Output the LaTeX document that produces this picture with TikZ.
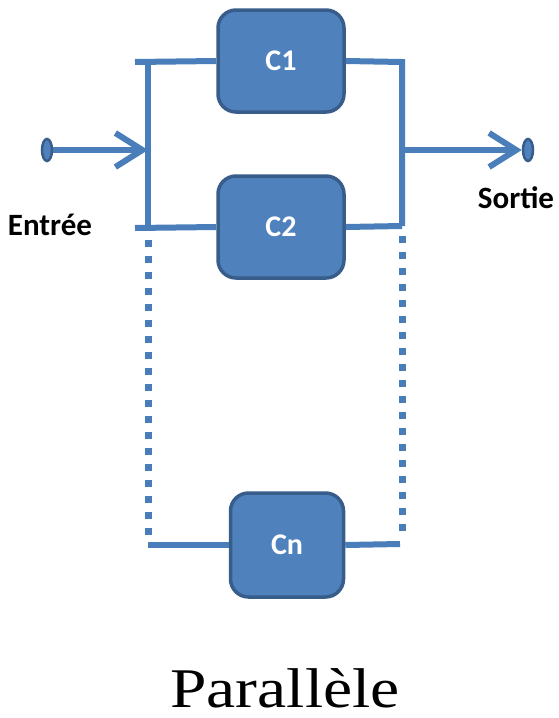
\documentclass[tikz,border=0pt]{standalone}
\usepackage{fontspec}
\setmainfont{Liberation Serif}
\newfontfamily\labelfont{Carlito}
\usetikzlibrary{calc,positioning,arrows.meta,shapes.geometric}
\definecolor{boxfill}{HTML}{4F81BD}
\definecolor{boxedge}{HTML}{385D8A}
\definecolor{wireblue}{HTML}{4A7EBB}

\begin{document}
\begin{tikzpicture}[x=1pt,y=-1pt]
    % Styles for components and wires
    \tikzset{
        compbox/.style={
            draw=boxedge, fill=boxfill, line width=3.5pt,
            rounded corners=18pt, inner sep=0pt,
            text=white, font=\labelfont\bfseries\fontsize{30}{34}\selectfont
        },
        wire/.style={draw=wireblue, line width=6pt},
        dotwire/.style={draw=wireblue, line width=7pt, dash pattern=on 7pt off 9pt},
        pin/.style={ellipse, draw=boxedge, fill=boxfill, line width=2.5pt,
            minimum width=10pt, minimum height=22pt, inner sep=0pt},
        barb/.style={-{Straight Barb[length=27pt,width=34pt,line width=6pt]}},
        tag/.style={anchor=base, font=\labelfont\bfseries\fontsize{31}{35}\selectfont}
    }
    \useasboundingbox (0,0) rectangle (558,718);

    % Components
    \node[compbox, minimum width=126pt, minimum height=102pt] (c1) at (281,61) {C1};
    \node[compbox, minimum width=126pt, minimum height=102pt] (c2) at (281,227) {C2};
    \node[compbox, minimum width=113pt, minimum height=104pt] (cn) at (287,545) {Cn};

    % Bus points
    \coordinate (lt) at (148,62);
    \coordinate (lb) at (148,228);
    \coordinate (ltx) at (135,62);
    \coordinate (lbx) at (135,228);
    \coordinate (lmid) at (148,150);
    \coordinate (ldot) at (148,240);
    \coordinate (ln) at (148,545);
    \coordinate (rt) at (402,62);
    \coordinate (rb) at (402,226);
    \coordinate (rmid) at (402,150);
    \coordinate (rdot) at (402,236);
    \coordinate (rn) at (400,544);

    % Input and output pins
    \node[pin] (in) at (47,150) {};
    \node[pin] (out) at (528,150) {};

    % Wires
    \draw[wire] (ltx) -- (c1.west);
    \draw[wire] (lbx) -- (c2.west);
    \draw[wire] (lt) -- (lb);
    \draw[wire] (c1.east) -- (rt) -- (rb);
    \draw[wire] (c2.east) -- (rb);
    \draw[wire] (ln) -- (cn.west);
    \draw[wire] (cn.east) -- (rn);
    \draw[dotwire] (ldot) -- (148,538);
    \draw[dotwire] (rdot) -- (402,538);

    % Arrows
    \draw[wire, barb] (in) -- (lmid);
    \draw[wire, barb] (rmid) -- (out.west);

    % Labels
    \node[tag] (entree) at (50,235) {Entrée};
    \node[tag] (sortie) at (516,208) {Sortie};
    \node[anchor=base, font=\fontsize{56}{60}\selectfont] (title) at (285,707)
        {\scalebox{1.17}[1]{Parallèle}};
\end{tikzpicture}
\end{document}
